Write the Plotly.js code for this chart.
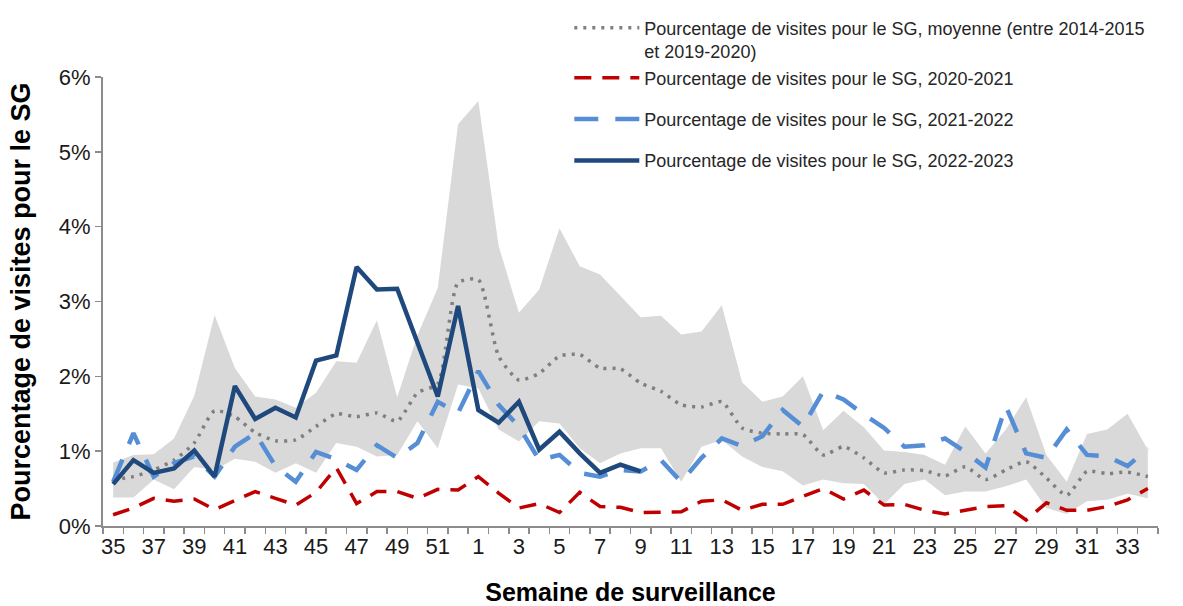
<!DOCTYPE html>
<html>
<head>
<meta charset="utf-8">
<script src="https://cdn.plot.ly/plotly-3.0.1.min.js"></script>
<style>html,body{margin:0;padding:0;background:#fff;}#chart{width:1183px;height:606px;}</style>
</head>
<body>
<div id="chart"></div>
<script>
// Surveillance weeks (35 -> 52, then 1 -> 34)
const weeks = ['35','36','37','38','39','40','41','42','43','44','45','46','47','48','49','50','51','52',
  '1','2','3','4','5','6','7','8','9','10','11','12','13','14','15','16','17','18','19','20','21','22','23','24','25','26','27','28','29','30','31','32','33','34'];
const tickLabels = ['35','','37','','39','','41','','43','','45','','47','','49','','51','',
  '1','','3','','5','','7','','9','','11','','13','','15','','17','','19','','21','','23','','25','','27','','29','','31','','33',''];

// Historical range (min / max, 2014-2015 to 2019-2020), %
const rangeLow = [0.38,0.38,0.62,0.49,0.79,0.75,0.90,0.86,0.71,0.84,0.71,1.11,1.06,0.93,0.95,1.40,1.04,1.89,
  1.84,1.29,1.13,1.40,1.37,1.04,0.84,0.97,1.04,1.04,0.59,1.06,1.15,0.93,0.79,0.73,0.54,0.62,0.57,0.56,0.29,0.56,0.62,0.41,0.46,0.46,0.53,0.62,0.24,0.16,0.33,0.35,0.43,0.37];
const rangeHigh = [0.85,0.95,0.96,1.17,1.74,2.82,2.11,1.73,1.69,1.58,1.78,2.20,2.18,2.75,1.72,2.55,3.18,5.37,
  5.68,3.74,2.85,3.16,3.98,3.47,3.36,3.07,2.79,2.81,2.56,2.60,2.95,1.92,1.66,1.73,2.00,1.28,1.54,1.32,1.01,0.99,0.95,0.82,1.33,0.97,1.29,1.72,0.95,0.59,1.23,1.29,1.50,1.02];

// Average 2014-2015 to 2019-2020, %
const avgPct = [0.62,0.66,0.75,0.88,1.11,1.54,1.46,1.25,1.14,1.15,1.33,1.50,1.46,1.51,1.40,1.78,1.90,3.25,
  3.29,2.27,1.95,2.04,2.27,2.29,2.11,2.10,1.91,1.80,1.62,1.59,1.66,1.31,1.24,1.23,1.22,0.95,1.06,0.91,0.71,0.75,0.74,0.67,0.79,0.62,0.75,0.86,0.64,0.41,0.73,0.70,0.72,0.66];

// 2020-2021, %
const s2020 = [0.15,0.24,0.37,0.33,0.36,0.22,0.34,0.46,0.37,0.28,0.45,0.78,0.30,0.46,0.46,0.37,0.49,0.48,
  0.66,0.44,0.24,0.30,0.18,0.45,0.26,0.25,0.18,0.19,0.19,0.33,0.35,0.21,0.29,0.29,0.40,0.50,0.36,0.48,0.28,0.29,0.21,0.16,0.21,0.26,0.27,0.08,0.31,0.21,0.21,0.26,0.35,0.50];

// 2021-2022, %
const s2021 = [0.59,1.24,0.66,0.84,0.93,0.66,1.06,1.24,0.80,0.59,0.99,0.89,0.75,1.08,0.91,1.11,1.66,1.51,
  2.07,1.62,1.33,0.88,0.95,0.71,0.66,0.75,0.73,0.88,0.59,0.91,1.17,1.07,1.20,1.55,1.33,1.80,1.69,1.49,1.31,1.06,1.08,1.17,0.99,0.78,1.60,0.97,0.91,1.29,0.95,0.93,0.80,1.04];

// 2022-2023, % (up to week 9)
const s2022 = [0.56,0.88,0.71,0.77,1.01,0.66,1.87,1.43,1.58,1.45,2.21,2.28,3.46,3.16,3.17,2.45,1.73,2.94,
  1.55,1.38,1.66,1.02,1.26,0.97,0.71,0.82,0.73];

const names = [
  'Pourcentage de visites pour le SG, moyenne (entre 2014-2015<br>et 2019-2020)',
  'Pourcentage de visites pour le SG, 2020-2021',
  'Pourcentage de visites pour le SG, 2021-2022',
  'Pourcentage de visites pour le SG, 2022-2023'
];

const FONT = 'Liberation Sans, Arial, sans-serif';

const traces = [
  {x: weeks, y: rangeLow, type: 'scatter', mode: 'lines', line: {width: 0, color: 'rgba(0,0,0,0)'},
   showlegend: false, hoverinfo: 'skip'},
  {x: weeks, y: rangeHigh, type: 'scatter', mode: 'lines', line: {width: 0, color: 'rgba(0,0,0,0)'},
   fill: 'tonexty', fillcolor: '#d9d9d9', showlegend: false, hoverinfo: 'skip'},
  {x: weeks, y: avgPct, type: 'scatter', mode: 'lines', name: names[0], legendgroup: 'a', legendrank: 1,
   line: {color: '#7f7f7f', width: 3.5, dash: '3px,6px', shape: 'spline', smoothing: 0.6}},
  {x: weeks, y: s2020, type: 'scatter', mode: 'lines', name: names[1], legendgroup: 'a', legendrank: 2,
   line: {color: '#c00000', width: 3.5, dash: '17px,11px'}},
  {x: weeks, y: s2021, type: 'scatter', mode: 'lines', name: names[2], legendgroup: 'c', legendrank: 3,
   line: {color: '#558ed5', width: 4.5, dash: '24px,17px'}},
  {x: weeks.slice(0, s2022.length), y: s2022, type: 'scatter', mode: 'lines', name: names[3], legendgroup: 'd', legendrank: 4,
   line: {color: '#1f497d', width: 4.5}}
];

const layout = {
  width: 1183, height: 606,
  margin: {l: 103, r: 25, t: 77, b: 80, pad: 0, autoexpand: false},
  paper_bgcolor: '#ffffff', plot_bgcolor: '#ffffff',
  font: {family: FONT, color: '#1a1a1a'},
  showlegend: true,
  legend: {
    x: 0.442, xanchor: 'left', y: 1.15, yanchor: 'top',
    font: {family: FONT, size: 18, color: '#262626'},
    bgcolor: 'rgba(0,0,0,0)', tracegroupgap: 15, valign: 'top', itemwidth: 65,
    traceorder: 'grouped'
  },
  xaxis: {
    type: 'category', categoryorder: 'array', categoryarray: weeks,
    range: [-0.5, weeks.length - 0.5],
    tickmode: 'array', tickvals: weeks, ticktext: tickLabels,
    tickson: 'boundaries', ticks: 'outside', ticklen: 6, tickwidth: 1.5, tickcolor: '#8c8c8c',
    showline: true, linecolor: '#8c8c8c', linewidth: 2, showgrid: false, zeroline: false,
    tickfont: {family: FONT, size: 22, color: '#1a1a1a'}, tickangle: 0,
    title: {text: '<b>Semaine de surveillance</b>', font: {family: FONT, size: 25, color: '#000'}, standoff: 26},
    fixedrange: true
  },
  yaxis: {
    range: [0, 6], dtick: 1, tick0: 0, ticksuffix: '%',
    ticks: 'outside', ticklen: 6, tickwidth: 1.5, tickcolor: '#8c8c8c',
    showline: true, linecolor: '#8c8c8c', linewidth: 2, showgrid: false, zeroline: false,
    tickfont: {family: FONT, size: 22, color: '#1a1a1a'},
    title: {text: '<b>Pourcentage de visites pour le SG</b>', font: {family: FONT, size: 27, color: '#000'}, standoff: 20},
    fixedrange: true
  }
};

Plotly.newPlot('chart', traces, layout, {displayModeBar: false, staticPlot: true});
</script>
</body>
</html>
